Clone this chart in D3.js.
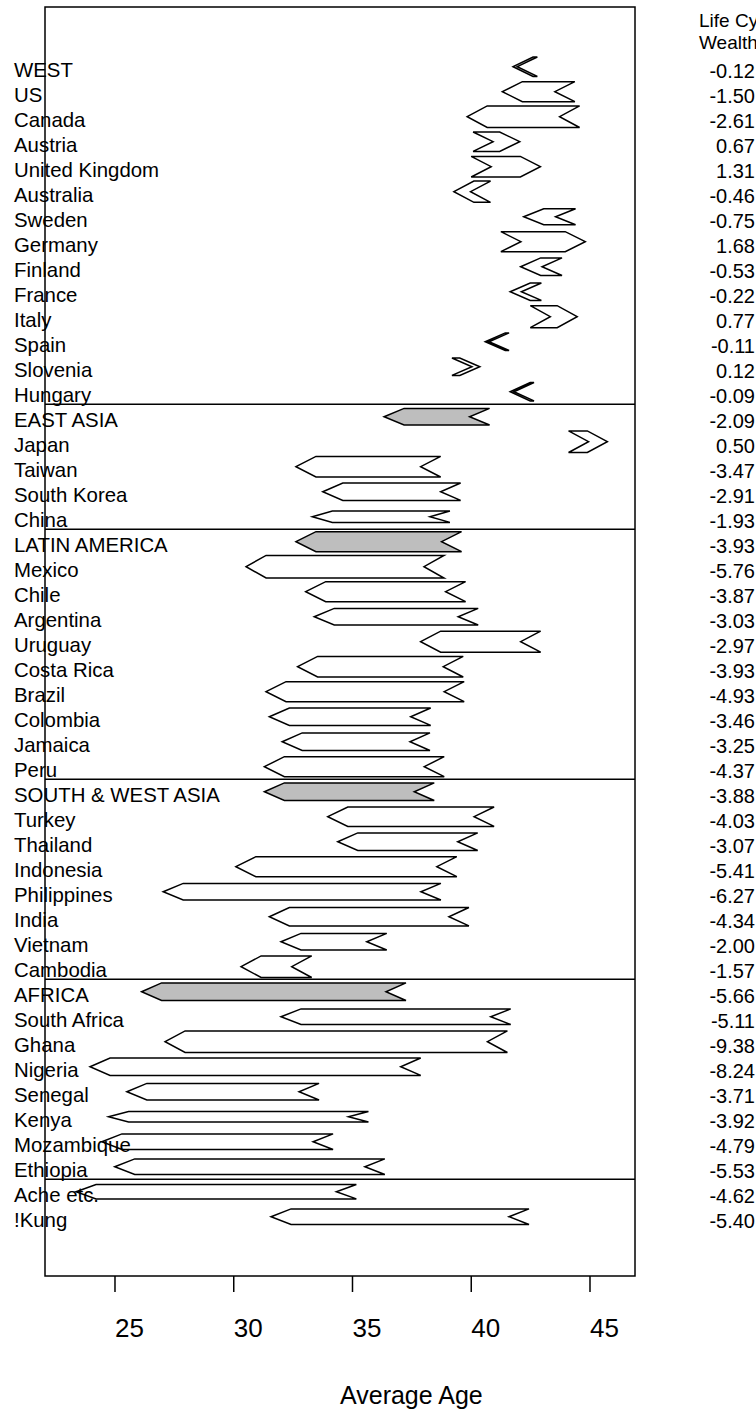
<!DOCTYPE html>
<head>
  <meta charset="utf-8">
  <style>
    body { margin: 0; background: white; }
    text {
      fill: black;
      font-family: 'Liberation Sans', Arial, Helvetica, sans-serif;
    }
  </style>
</head>

<body>
  <script src="https://cdn.jsdelivr.net/npm/d3@7"></script>

  <script>
    // page size and the plot box
    const width = 756;
    const height = 1410;
    const box = {left: 45, right: 635, top: 7, bottom: 1276};

    // rows, top to bottom
    const rows = [ "WEST", "US", "Canada", "Austria", "United Kingdom", "Australia", "Sweden",
      "Germany", "Finland", "France", "Italy", "Spain", "Slovenia", "Hungary",
      "EAST ASIA", "Japan", "Taiwan", "South Korea", "China",
      "LATIN AMERICA", "Mexico", "Chile", "Argentina", "Uruguay", "Costa Rica", "Brazil",
      "Colombia", "Jamaica", "Peru",
      "SOUTH & WEST ASIA", "Turkey", "Thailand", "Indonesia", "Philippines", "India",
      "Vietnam", "Cambodia",
      "AFRICA", "South Africa", "Ghana", "Nigeria", "Senegal", "Kenya", "Mozambique",
      "Ethiopia", "Ache etc.", "!Kung" ];
    // regional aggregates (grey arrows) and the rows that start a new group
    const regions = [ "WEST", "EAST ASIA", "LATIN AMERICA", "SOUTH & WEST ASIA", "AFRICA" ];
    const groupStarts = [ "EAST ASIA", "LATIN AMERICA", "SOUTH & WEST ASIA", "AFRICA", "Ache etc." ];
    // arrow tail (notch) and head (point) ages
    const tailAge = [ 41.94, 43.52, 43.72, 40.92, 40.84, 39.97, 43.55,
      42.09, 42.98, 42.11, 43.33, 40.75, 40.03, 41.80,
      39.93, 44.94, 37.87, 38.71, 38.26,
      38.75, 38.01, 38.92, 39.45, 42.08, 38.82, 38.86,
      37.45, 37.42, 38.02,
      37.60, 40.12, 39.43, 38.55, 37.88, 39.06,
      35.60, 32.44,
      36.41, 40.82, 40.68, 37.03, 32.75, 34.83, 33.34,
      35.52, 34.32, 41.59 ];
    const headAge = [ 41.76, 41.31, 39.83, 42.04, 42.91, 39.27, 42.21,
      44.80, 42.08, 41.64, 44.46, 40.59, 40.36, 41.64,
      36.33, 45.73, 32.62, 33.75, 33.31,
      32.62, 30.52, 33.03, 33.39, 37.87, 32.69, 31.36,
      31.50, 32.04, 31.29,
      31.29, 33.96, 34.38, 30.09, 27.03, 31.50,
      31.99, 30.31,
      26.12, 31.99, 27.11, 23.95, 25.50, 24.73, 24.45,
      24.99, 23.36, 31.57 ];
    // relative arrow thickness
    const weight = [ 0.97, 1.00, 1.08, 0.97, 1.03, 1.06, 0.80,
      1.00, 0.88, 0.87, 1.10, 0.88, 0.87, 0.92,
      0.83, 1.08, 1.03, 0.87, 0.57,
      1.00, 1.13, 1.00, 0.83, 1.05, 1.03, 1.00,
      0.87, 0.88, 1.00,
      0.88, 0.97, 0.88, 1.00, 0.83, 0.92,
      0.83, 1.08,
      0.88, 0.78, 1.08, 0.87, 0.83, 0.53, 0.78,
      0.78, 0.72, 0.78 ];
    // life cycle wealth column
    const wealth = [ "-0.12", "-1.50", "-2.61", "0.67", "1.31", "-0.46", "-0.75",
      "1.68", "-0.53", "-0.22", "0.77", "-0.11", "0.12", "-0.09",
      "-2.09", "0.50", "-3.47", "-2.91", "-1.93",
      "-3.93", "-5.76", "-3.87", "-3.03", "-2.97", "-3.93", "-4.93",
      "-3.46", "-3.25", "-4.37",
      "-3.88", "-4.03", "-3.07", "-5.41", "-6.27", "-4.34",
      "-2.00", "-1.57",
      "-5.66", "-5.11", "-9.38", "-8.24", "-3.71", "-3.92", "-4.79",
      "-5.53", "-4.62", "-5.40" ];
    const wealthTitle = [ "Life Cycle", "Wealth" ];
    const xTicks = [ 25, 30, 35, 40, 45 ];

    const data = rows.map((r, i) => ({
      name: r, tail: tailAge[i], head: headAge[i], w: weight[i], wealth: wealth[i]
    }));

    let svg = d3.select("body")
      .append("svg")
      .attr("width", width)
      .attr("height", height);

    //-----------------------------SCALES-----------------------------//
    const xScale = d3.scaleLinear()
      .domain([22.053, 46.895])
      .range([box.left, box.right]);

    const yScale = d3.scaleBand()
      .domain(rows)
      .range([54.2, 54.2 + 25 * rows.length])
      .padding(0);

    const thick = d3.scaleLinear().domain([0, 1]).range([0, 20]);
    const notch = 20;

    //-----------------------------ARROWS-----------------------------//
    function arrowPoints(d) {
      const c = yScale(d.name) + yScale.bandwidth() / 2;
      const h = thick(d.w) / 2;
      const a = xScale(d.tail), b = xScale(d.head);
      const dir = b >= a ? 1 : -1;
      return [
        [b, c], [b - dir * notch, c - h], [a - dir * notch, c - h],
        [a, c], [a - dir * notch, c + h], [b - dir * notch, c + h]
      ].map(p => p.join(",")).join(" ");
    }

    svg.append("g").attr("id", "arrows")
      .selectAll("polygon").data(data).enter().append("polygon")
      .attr("points", arrowPoints)
      .style("fill", d => regions.includes(d.name) ? "#bebebe" : "white")
      .style("stroke", "black")
      .style("stroke-width", 1.5)
      .style("stroke-linejoin", "miter");

    // group separators
    svg.append("g").attr("id", "separators")
      .selectAll("line").data(groupStarts).enter().append("line")
      .attr("x1", box.left).attr("x2", box.right)
      .attr("y1", d => yScale(d)).attr("y2", d => yScale(d))
      .style("stroke", "black").style("stroke-width", 1.5);

    // plot box
    svg.append("rect")
      .attr("x", box.left).attr("y", box.top)
      .attr("width", box.right - box.left).attr("height", box.bottom - box.top)
      .style("fill", "none").style("stroke", "black").style("stroke-width", 1.5);

    //-----------------------------LABELS-----------------------------//
    svg.append("g").attr("id", "row-labels")
      .selectAll("text").data(data).enter().append("text")
      .attr("x", 14)
      .attr("y", d => yScale(d.name) + yScale.bandwidth() / 2 + 10.3)
      .style("font-size", "20.4px")
      .text(d => d.name);

    svg.append("g").attr("id", "wealth-title")
      .selectAll("text").data(wealthTitle).enter().append("text")
      .attr("x", 699)
      .attr("y", (d, i) => 27 + i * 22)
      .style("font-size", "19px")
      .text(d => d);

    svg.append("g").attr("id", "wealth-values")
      .selectAll("text").data(data).enter().append("text")
      .attr("x", 755)
      .attr("y", d => yScale(d.name) + yScale.bandwidth() / 2 + 11.3)
      .attr("text-anchor", "end")
      .style("font-size", "20px")
      .text(d => d.wealth);

    //-----------------------------AXIS-----------------------------//
    const xaxis = svg.append("g").attr("id", "x-axis");
    xaxis.selectAll("line").data(xTicks).enter().append("line")
      .attr("x1", d => xScale(d)).attr("x2", d => xScale(d))
      .attr("y1", box.bottom).attr("y2", box.bottom + 16)
      .style("stroke", "black").style("stroke-width", 1.5);
    xaxis.selectAll("text").data(xTicks).enter().append("text")
      .attr("x", d => xScale(d))
      .attr("y", 1337)
      .style("font-size", "26px")
      .text(d => d);

    svg.append("text")
      .attr("x", 340).attr("y", 1404)
      .style("font-size", "25px")
      .text("Average Age");
  </script>
</body>
